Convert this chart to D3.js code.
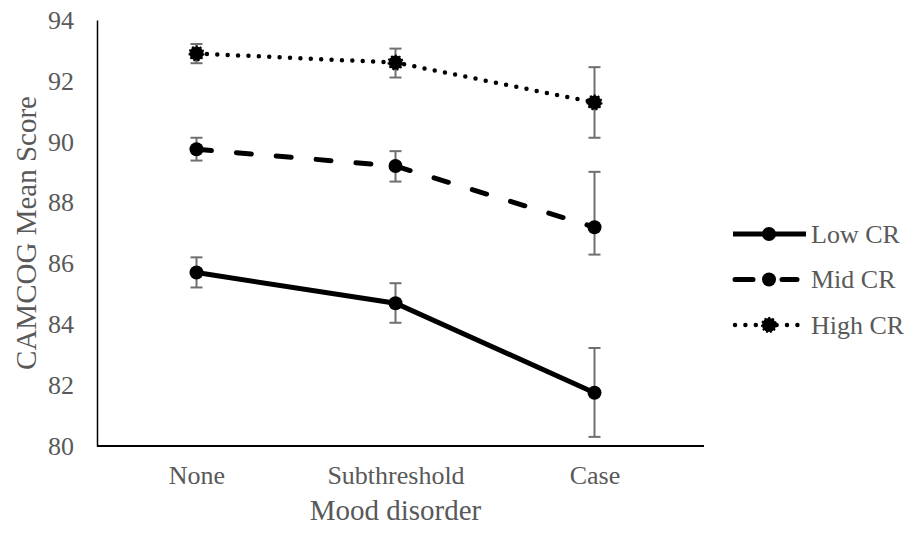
<!DOCTYPE html>
<html>
<head>
<meta charset="utf-8">
<script src="https://cdn.jsdelivr.net/npm/d3@7"></script>
<style>
  body { margin: 0; background: #fff; }
  text { font-family: "Liberation Serif", "Times New Roman", serif; fill: #595959; }
</style>
</head>
<body>
<div class="chart"></div>
<script>
// values
var categories = ["None", "Subthreshold", "Case"];
var seriesNames = ["Low CR", "Mid CR", "High CR"];
var lowMean = [85.7, 84.69, 81.75];
var lowUpper = [86.2, 85.35, 83.22];
var lowLower = [85.21, 84.05, 80.3];
var midMean = [89.75, 89.2, 87.19];
var midUpper = [90.13, 89.69, 89.01];
var midLower = [89.38, 88.69, 86.29];
var highMean = [92.9, 92.6, 91.29];
var highUpper = [93.21, 93.06, 92.45];
var highLower = [92.58, 92.11, 90.13];
var yTicks = [80, 82, 84, 86, 88, 90, 92, 94];

var width = 909, height = 534;
var plotLeft = 97, plotRight = 694, plotTop = 20, plotBottom = 446;
var serif = "'Liberation Serif', 'Times New Roman', serif";

var svg = d3.select(".chart").append("svg")
    .attr("width", width)
    .attr("height", height);

var x = d3.scalePoint()
    .domain(categories)
    .range([plotLeft, plotRight])
    .padding(0.5);

var y = d3.scaleLinear()
    .domain([80, 94])
    .range([plotBottom, plotTop]);

// axes, no tick marks
var yAxis = svg.append("g")
    .attr("transform", "translate(" + plotLeft + ",0)")
    .call(d3.axisLeft(y).tickValues(yTicks).tickSize(0).tickPadding(23))
    .attr("font-family", serif)
    .attr("font-size", 26);
yAxis.select(".domain").attr("stroke", "#000").attr("stroke-width", 1.5);
yAxis.selectAll("text").attr("fill", "#595959");

var xAxis = svg.append("g")
    .attr("transform", "translate(0," + plotBottom + ")")
    .call(d3.axisBottom(x).tickSize(0).tickPadding(20))
    .attr("font-family", serif)
    .attr("font-size", 26);
xAxis.select(".domain").attr("stroke", "#000").attr("stroke-width", 2)
    .attr("d", "M" + plotLeft + ",0H704");
xAxis.selectAll("text").attr("fill", "#595959");

svg.append("text")
    .attr("transform", "translate(36," + ((plotTop + plotBottom) / 2) + ") rotate(-90)")
    .attr("text-anchor", "middle")
    .style("font-size", "29px")
    .text("CAMCOG Mean Score");

svg.append("text")
    .attr("x", x("Subthreshold"))
    .attr("y", 520)
    .attr("text-anchor", "middle")
    .style("font-size", "29px")
    .text("Mood disorder");

var series = [
  { name: seriesNames[0], mean: lowMean, up: lowUpper, lo: lowLower, dash: null, w: 5, cap: "butt" },
  { name: seriesNames[1], mean: midMean, up: midUpper, lo: midLower, dash: "15,25", w: 5, cap: "round" },
  { name: seriesNames[2], mean: highMean, up: highUpper, lo: highLower, dash: "0,10.4", w: 4.5, cap: "round" }
];

var line = d3.line()
    .x(function(d, i) { return x(categories[i]); })
    .y(function(d) { return y(d); });

series.forEach(function(s) {
  // error bars
  var eb = svg.append("g");
  categories.forEach(function(c, i) {
    eb.append("line")
      .attr("x1", x(c)).attr("x2", x(c))
      .attr("y1", y(s.up[i])).attr("y2", y(s.lo[i]))
      .attr("stroke", "#6f6f6f").attr("stroke-width", 2);
    [s.up[i], s.lo[i]].forEach(function(v) {
      eb.append("line")
        .attr("x1", x(c) - 6).attr("x2", x(c) + 6)
        .attr("y1", y(v)).attr("y2", y(v))
        .attr("stroke", "#6f6f6f").attr("stroke-width", 2);
    });
  });

  svg.append("path")
    .datum(s.mean)
    .attr("d", line)
    .attr("fill", "none")
    .attr("stroke", "#000")
    .attr("stroke-width", s.w)
    .attr("stroke-linecap", s.cap)
    .attr("stroke-dasharray", s.dash);

  svg.selectAll(null)
    .data(s.mean)
    .enter().append("circle")
    .attr("cx", function(d, i) { return x(categories[i]); })
    .attr("cy", function(d) { return y(d); })
    .attr("r", 7)
    .attr("fill", "#000")
    .attr("stroke", s.name == "High CR" ? "#000" : "none")
    .attr("stroke-width", 2)
    .attr("stroke-dasharray", "2,2");
});

// legend
var legend = svg.append("g");
series.forEach(function(s, i) {
  var ly = 234 + i * 45.5;
  if (i == 1) {
    legend.append("line").attr("x1", 735).attr("x2", 753).attr("y1", ly).attr("y2", ly)
      .attr("stroke", "#000").attr("stroke-width", s.w).attr("stroke-linecap", "round");
    legend.append("line").attr("x1", 782).attr("x2", 797).attr("y1", ly).attr("y2", ly)
      .attr("stroke", "#000").attr("stroke-width", s.w).attr("stroke-linecap", "round");
  } else {
    legend.append("line").attr("x1", i == 2 ? 735 : 733).attr("x2", 806).attr("y1", ly).attr("y2", ly)
      .attr("stroke", "#000").attr("stroke-width", s.w)
      .attr("stroke-linecap", s.cap)
      .attr("stroke-dasharray", i == 2 ? "0,10.4" : null);
  }
  legend.append("circle").attr("cx", 769).attr("cy", ly).attr("r", 7)
    .attr("fill", "#000")
    .attr("stroke", i == 2 ? "#000" : "none")
    .attr("stroke-width", 2).attr("stroke-dasharray", "2,2");
  legend.append("text")
    .attr("x", 811)
    .attr("y", ly)
    .attr("dy", "0.33em")
    .style("font-size", "26px")
    .text(s.name);
});
</script>
</body>
</html>
